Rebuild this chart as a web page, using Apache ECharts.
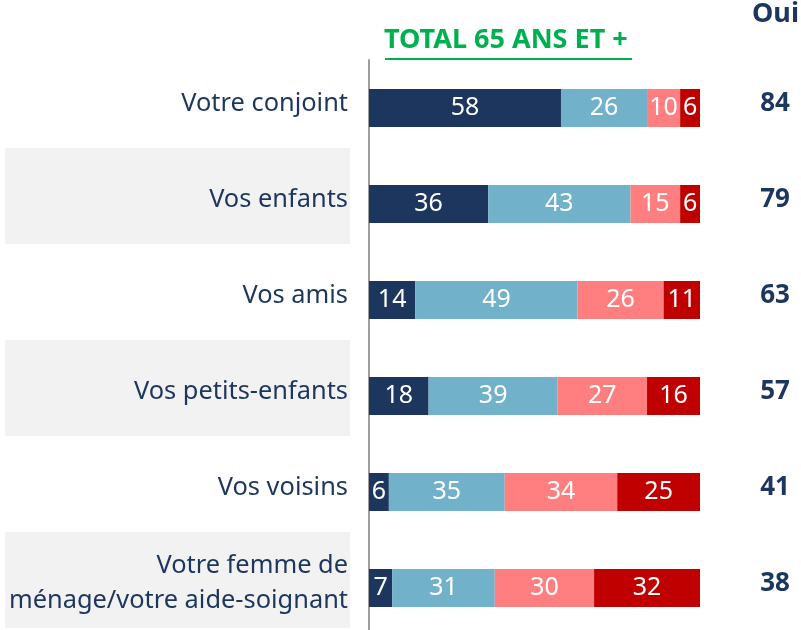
<!DOCTYPE html>
<html><head><meta charset="utf-8">
<script src="https://cdn.jsdelivr.net/npm/echarts@6/dist/echarts.min.js"></script>
<style>html,body{margin:0;padding:0;background:#fff}#c{width:801px;height:630px}</style>
</head><body><div id="c"></div>
<script>
const categories = ["Votre conjoint","Vos enfants","Vos amis","Vos petits-enfants","Vos voisins","Votre femme de\nménage/votre aide-soignant"];
const seriesNames = ["Oui, tout à fait","Oui, plutôt","Non, plutôt pas","Non, pas du tout"];
const s1 = [58,36,14,18,6,7];
const s2 = [26,43,49,39,35,31];
const s3 = [10,15,26,27,34,30];
const s4 = [6,6,11,16,25,32];
const ouiTotals = ["84","79","63","57","41","38"];
const colors = ["#1C365E","#71B1C9","#FF7F80","#C00000"];

const navy = "#1C365E";
const chart = echarts.init(document.getElementById('c'));
const data = [s1,s2,s3,s4];
const option = {
  animation:false,
  grid:{left:369,right:101,top:60,bottom:-6,containLabel:false,outerBoundsMode:'none'},
  xAxis:{type:'value',min:0,max:100,show:false},
  yAxis:[{
    type:'category',data:categories,inverse:true,
    axisLine:{show:true,lineStyle:{color:'#9E9E9E',width:2}},
    axisTick:{show:false},
    axisLabel:{margin:21,align:'right',
      formatter:v=>'{a|'+v+'}\n{s|}',
      rich:{a:{color:navy,fontFamily:'Noto Sans',fontSize:25.4,lineHeight:35,align:'right'},s:{height:9,lineHeight:9,fontSize:1}}}
  },{
    type:'category',data:ouiTotals,inverse:true,position:'right',
    axisLine:{show:false},axisTick:{show:false},
    axisLabel:{margin:75,align:'center',
      formatter:v=>'{b|'+v+'}\n{s|}',
      rich:{b:{color:navy,fontFamily:'Noto Sans',fontWeight:'bold',fontSize:26,lineHeight:35},s:{height:8,lineHeight:8,fontSize:1}}}
  }],
  series:data.map((d,i)=>({
    name:seriesNames[i],type:'bar',stack:'t',barWidth:38,data:d,
    itemStyle:{color:colors[i]},
    label:{show:true,position:'inside',color:'#fff',fontFamily:'Noto Sans',fontSize:25}
  }))
};
chart.setOption(option);
// gray background bands behind alternate category labels
const rects=[];
categories.forEach((c,i)=>{
  if(i%2===1){
    const y=chart.convertToPixel({yAxisIndex:0},c);
    rects.push({type:'rect',z:-10,silent:true,shape:{x:5,y:y-56,width:345,height:96},style:{fill:'#F2F2F2'}});
  }
});
rects.push({type:'text',left:384,top:27,style:{text:'TOTAL 65 ANS ET +',fill:'#00B050',font:'bold 27px "Noto Sans"'}});
rects.push({type:'line',shape:{x1:385,y1:59,x2:632,y2:59},style:{stroke:'#00B050',lineWidth:2}});
rects.push({type:'text',left:752,top:1,style:{text:'Oui',fill:navy,font:'bold 27px "Noto Sans"'}});
chart.setOption({graphic:rects});
</script></body></html>
